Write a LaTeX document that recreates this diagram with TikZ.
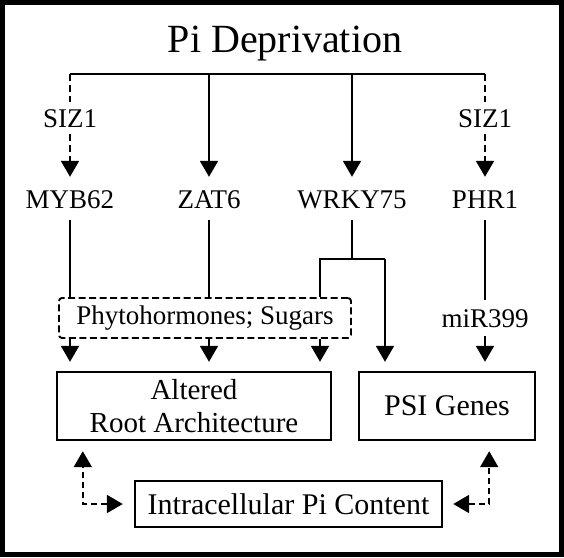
\documentclass[tikz,border=0pt]{standalone}
\usepackage{fontspec}
\setmainfont{Liberation Serif}
\usetikzlibrary{arrows.meta,calc}
\begin{document}
\begin{tikzpicture}[x=1pt,y=-1pt,
  lbl/.style={font=\fontsize{27}{30}\selectfont, inner xsep=2pt, inner ysep=12pt, text height=19pt, text depth=0pt},
  siz/.style={lbl, inner ysep=6pt},
  solidbox/.style={draw, line width=2.4pt, align=center, inner sep=0pt},
  conn/.style={line width=1.9pt},
  arr/.style={conn, -{Triangle[length=16pt,width=18pt]}},
  dsh/.style={dash pattern=on 7pt off 4pt},
  dblarr/.style={conn, dash pattern=on 6pt off 4pt, {Triangle[length=16pt,width=18pt]}-{Triangle[length=16pt,width=18pt]}},
]
\fill[black] (0,0) rectangle (564,557);
\fill[white] (5,5) rectangle (559,552);

\node[font=\fontsize{40}{44}\selectfont, anchor=base, inner sep=0pt] (title) at (285,52) {Pi Deprivation};
\coordinate (barL) at (70,74);
\coordinate (barR) at (485,74);
\draw[conn] (barL) -- (barR);

\node[siz] (sizL) at (70,118) {SIZ1};
\node[siz] (sizR) at (485,118) {SIZ1};
\node[lbl] (myb) at (70,198.5) {MYB62};
\node[lbl] (zat) at (209,198.5) {ZAT6};
\node[lbl] (wrky) at (352,198.5) {WRKY75};
\node[lbl] (phr) at (485,198.5) {PHR1};

\draw[conn, dsh] (barL) -- (sizL.north);
\draw[arr, dsh] (sizL.south) -- (myb.north);
\draw[conn, dsh] (barR) -- (sizR.north);
\draw[arr, dsh] (sizR.south) -- (phr.north);
\draw[arr] (zat |- barL) -- (zat.north);
\draw[arr] (wrky |- barL) -- (wrky.north);

\node[draw, conn, dash pattern=on 7pt off 3.5pt, rounded corners=3pt, minimum width=292pt, minimum height=40pt, inner sep=0pt, font=\fontsize{27}{30}\selectfont] (phyto) at (205,318) {Phytohormones; Sugars};
\node[lbl, inner ysep=8pt, text height=19pt] (mir) at (485,318) {miR399};

\node[solidbox, minimum width=274pt, minimum height=68pt, font=\fontsize{29}{33}\selectfont] (root) at (194,406) {Altered\\Root Architecture};
\node[solidbox, minimum width=176pt, minimum height=68pt, font=\fontsize{30}{33}\selectfont] (psi) at (447,406) {PSI Genes};
\node[solidbox, minimum width=307pt, minimum height=46pt, font=\fontsize{30}{33}\selectfont] (intra) at (288.5,504) {Intracellular Pi Content};

\draw[conn] (myb.south) -- (myb.south |- phyto.north);
\draw[conn] (zat.south) -- (zat.south |- phyto.north);
\coordinate (wj) at (352,259);
\coordinate (wl) at (320,259);
\coordinate (wr) at (385,259);
\draw[conn] (wrky.south) -- (wj);
\draw[conn] (wl |- phyto.north) -- (wl) -- (wr);
\draw[arr, shorten >=9pt] (wr) -- (wr |- psi.north);

\draw[arr, shorten >=9pt] (phyto.south -| myb) -- (myb |- root.north);
\draw[arr, shorten >=9pt] (phyto.south -| zat) -- (zat |- root.north);
\draw[arr, shorten >=9pt] (phyto.south -| wl) -- (wl |- root.north);

\draw[conn] (phr.south) -- (mir.north);
\draw[arr, shorten >=9pt] (mir.south) -- (psi.north -| mir);

\coordinate (lc) at ($(root.south west)+(27,0)$);
\coordinate (rc) at ($(psi.south east)+(-47,0)$);
\draw[dblarr, shorten <=11pt, shorten >=10pt] (intra.west) -| (lc);
\draw[dblarr, shorten <=10pt, shorten >=10pt] (intra.east) -| (rc);
\end{tikzpicture}
\end{document}
